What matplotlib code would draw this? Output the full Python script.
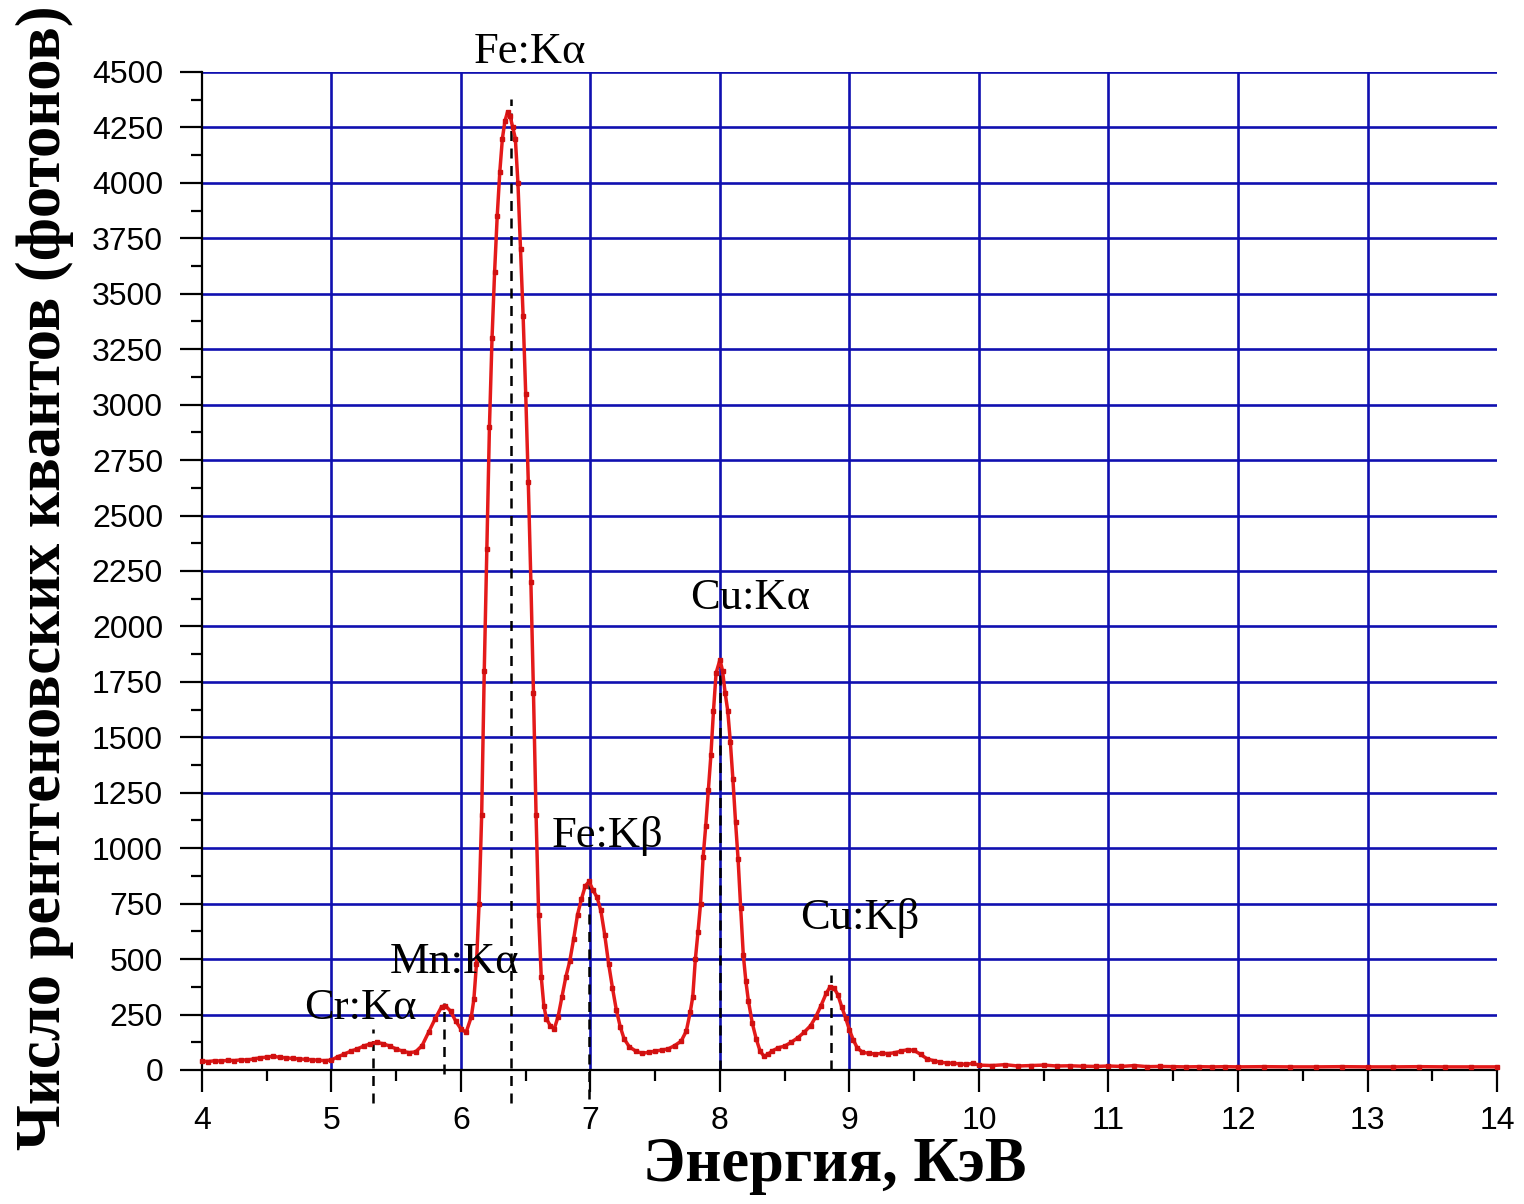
import numpy as np
import matplotlib
matplotlib.use("Agg")
import matplotlib.pyplot as plt
from matplotlib.ticker import MultipleLocator

# spectrum (energy in keV, counts)
energy = [4.00, 4.05, 4.10, 4.15, 4.20, 4.25, 4.30, 4.35, 4.40, 4.45,
          4.50, 4.55, 4.60, 4.65, 4.70, 4.75, 4.80, 4.85, 4.90, 4.95,
          5.00, 5.05, 5.10, 5.15, 5.20, 5.25, 5.30, 5.35, 5.40, 5.45,
          5.50, 5.55, 5.60, 5.65, 5.70, 5.75, 5.80, 5.85, 5.88, 5.92,
          5.96, 6.00, 6.04, 6.08, 6.10, 6.12, 6.14, 6.16, 6.18, 6.20,
          6.22, 6.24, 6.26, 6.28, 6.30, 6.32, 6.34, 6.36, 6.38, 6.40,
          6.42, 6.44, 6.46, 6.48, 6.50, 6.52, 6.54, 6.56, 6.58, 6.60,
          6.62, 6.64, 6.66, 6.69, 6.72, 6.75, 6.78, 6.81, 6.84, 6.87,
          6.90, 6.93, 6.96, 6.99, 7.02, 7.05, 7.08, 7.11, 7.14, 7.17,
          7.20, 7.23, 7.26, 7.30, 7.35, 7.40, 7.45, 7.50, 7.55, 7.60,
          7.65, 7.70, 7.74, 7.77, 7.79, 7.81, 7.83, 7.85, 7.87, 7.89,
          7.91, 7.93, 7.95, 7.97, 8.00, 8.02, 8.04, 8.06, 8.08, 8.10,
          8.12, 8.14, 8.16, 8.18, 8.20, 8.22, 8.25, 8.28, 8.31, 8.34,
          8.37, 8.40, 8.45, 8.50, 8.55, 8.60, 8.65, 8.70, 8.74, 8.78,
          8.82, 8.85, 8.88, 8.91, 8.94, 8.97, 9.00, 9.03, 9.06, 9.10,
          9.15, 9.20, 9.25, 9.30, 9.35, 9.40, 9.45, 9.50, 9.55, 9.60,
          9.65, 9.70, 9.75, 9.80, 9.85, 9.90, 9.95, 10.0, 10.1, 10.2,
          10.3, 10.4, 10.5, 10.6, 10.7, 10.8, 10.9, 11.0, 11.1, 11.2,
          11.3, 11.4, 11.5, 11.6, 11.7, 11.8, 11.9, 12.0, 12.2, 12.4,
          12.6, 12.8, 13.0, 13.2, 13.4, 13.6, 13.8, 14.0]
counts = [40, 38, 42, 40, 44, 42, 46, 45, 50, 55,
          58, 62, 57, 55, 52, 50, 48, 46, 44, 42,
          45, 60, 72, 85, 95, 108, 118, 125, 118, 108,
          95, 85, 78, 82, 110, 170, 230, 285, 290, 265,
          220, 185, 170, 240, 320, 480, 750, 1150, 1800, 2350,
          2900, 3300, 3600, 3850, 4050, 4200, 4280, 4320, 4300, 4250,
          4200, 4000, 3700, 3400, 3050, 2650, 2200, 1700, 1150, 700,
          420, 290, 230, 200, 185, 240, 330, 420, 490, 590,
          700, 770, 830, 850, 810, 780, 720, 610, 480, 370,
          270, 195, 140, 105, 85, 75, 80, 85, 90, 95,
          110, 130, 175, 260, 330, 500, 620, 750, 960, 1100,
          1262, 1420, 1620, 1790, 1850, 1800, 1700, 1620, 1480, 1310,
          1120, 950, 730, 520, 400, 310, 210, 140, 85, 62,
          70, 85, 100, 108, 125, 145, 170, 200, 240, 290,
          345, 375, 370, 340, 285, 235, 180, 135, 100, 80,
          75, 72, 75, 74, 78, 85, 92, 88, 70, 50,
          42, 35, 32, 30, 28, 25, 30, 22, 20, 24,
          18, 20, 22, 18, 19, 17, 16, 18, 16, 20,
          15, 16, 15, 14, 15, 14, 15, 14, 15, 14,
          14, 15, 14, 14, 15, 14, 14, 14]

# peak labels and dashed marker lines
labels = ["Cr:Kα", "Mn:Kα", "Fe:Kα", "Fe:Kβ", "Cu:Kα", "Cu:Kβ"]
label_x = [5.22, 5.95, 6.53, 7.13, 8.23, 9.08]
label_y = [280, 487, 4590, 1055, 2128, 685]
line_x = [5.32, 5.87, 6.39, 6.99, 8.00, 8.86]
line_top = [185, 300, 4380, 855, 1850, 430]
line_bottom = [-150, -20, -150, -130, 0, 0]

fig = plt.figure(figsize=(15.24, 12.04), dpi=100)
ax = fig.add_axes([0.1325, 0.1113, 0.8498, 0.8289])

grid_col = "#1010b0"
ax.vlines([5, 6, 7, 8, 9, 10, 11, 12, 13], 0, 4500, colors=grid_col, lw=1.9, zorder=1)
ax.hlines(np.arange(250, 4501, 250), 4, 14, colors=grid_col, lw=1.9, zorder=1)

for xx, t, b in zip(line_x, line_top, line_bottom):
    ax.plot([xx, xx], [b, t], color="black", ls=(0, (4, 3)), lw=1.8, zorder=2, clip_on=False)

ax.plot(energy, counts, color="#e41a1a", lw=2.5, marker="s", ms=3.5,
        mfc="#d01010", mec="#d01010", zorder=3, clip_on=False)

for t, xx, yy in zip(labels, label_x, label_y):
    ax.text(xx, yy, t, ha="center", va="center", fontsize=32,
            family="Liberation Serif", zorder=4, clip_on=False)

ax.set_xlim(4, 14)
ax.set_ylim(0, 4500)
ax.xaxis.set_major_locator(MultipleLocator(1))
ax.xaxis.set_minor_locator(MultipleLocator(0.5))
ax.yaxis.set_major_locator(MultipleLocator(250))
ax.yaxis.set_minor_locator(MultipleLocator(125))
for s in ["top", "right"]:
    ax.spines[s].set_visible(False)
for s in ["left", "bottom"]:
    ax.spines[s].set_linewidth(1.6)
ax.tick_params(which="major", length=16, width=1.6, direction="out", labelsize=23)
ax.tick_params(axis="y", which="major", pad=12)
ax.tick_params(axis="x", which="major", pad=10)
ax.tick_params(which="minor", length=8, width=1.6, direction="out")
for lab in ax.get_xticklabels() + ax.get_yticklabels():
    lab.set_family("Liberation Sans")

fig.text(45 / 1524, 1 - 578 / 1204, "Число рентгеновских квантов (фотонов)",
         rotation=90, ha="center", va="center", fontsize=45, fontweight="bold",
         family="Liberation Serif")
fig.text(835 / 1524, 1 - 1166 / 1204, "Энергия, КэВ", ha="center", va="center",
         fontsize=45, fontweight="bold", family="Liberation Serif")

fig.savefig("out.png", dpi=100)
